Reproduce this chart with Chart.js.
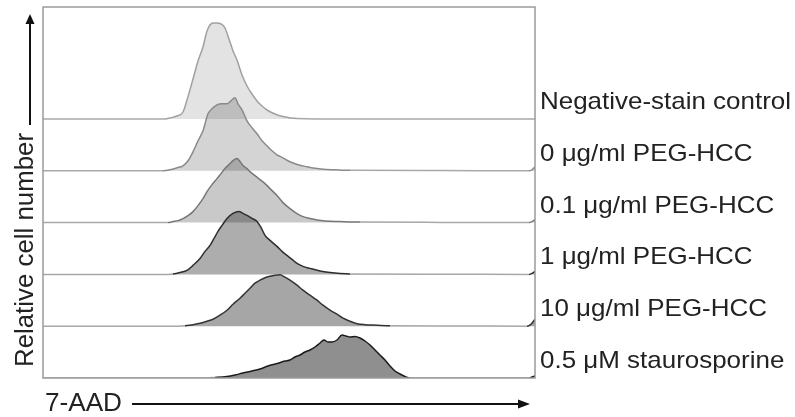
<!DOCTYPE html>
<html><head><meta charset="utf-8">
<script src="https://cdn.jsdelivr.net/npm/chart.js@4"></script>
<style>html,body{margin:0;padding:0;background:#fff;overflow:hidden}</style>
</head><body>
<canvas id="c" width="795" height="417"></canvas>
<script>
// ---- data (top row first) ----
const categories = ['Negative-stain control','0 \u03bcg/ml PEG-HCC','0.1 \u03bcg/ml PEG-HCC','1 \u03bcg/ml PEG-HCC','10 \u03bcg/ml PEG-HCC','0.5 \u03bcM staurosporine'];
const xAxisTitle = '7-AAD';
const yAxisTitle = 'Relative cell number';

const negChannel = [0,122,127,134,140,144,150,155,160,164,167,170,174,178,182,186,190,194,199,204,209,214,219,224,232,240,254,300,492];
const negCount   = [0,0,1,3,7,19,40,58,72,88,94,96,96,95,91,80,68,59,44,33,25,18,13,9,5,2.5,0.5,0,0];

const c0Channel = [0,120,127,134,140,145,150,155,160,165,169,174,179,184,188,192,195,199,204,209,214,219,224,229,234,240,247,255,264,272,280,292,307,400,486,489,492];
const c0Count   = [0,0,1,3,5,10,19,30,40,57,62,66,67,67,70,73,67,61,50,43,37,30,25,20,16,13,9,6,4,2.5,1.5,1,0.5,0.2,0,1,4];

const c01Channel = [0,125,130,135,140,145,150,155,160,164,169,174,178,182,186,190,194,197,200,204,207,212,217,222,227,234,240,247,254,260,267,274,282,297,317,400,486,489,492];
const c01Count   = [0,0,1,2,4,7,11,17,24,31,38,44,49,54,58,62,64,61,57,54,51,47,43,39,34,27,20,14,9,6,4,2.5,1.5,1,0.5,0.2,0,1,3];

const c1Channel = [0,125,130,137,144,150,157,162,167,171,175,179,184,190,196,200,204,209,214,218,222,227,234,239,244,249,254,260,267,277,287,297,307,400,486,489,492];
const c1Count   = [0,0,0.5,2,4,9,16,23,29,36,43,49,56,61,63,61,59,56,53,47,39,34,28,23,19,15,11,8,6,3.5,2,1,0.5,0.2,0,1,3];

const c10Channel = [0,135,142,150,157,164,170,177,184,190,197,202,207,212,217,222,227,232,237,242,247,254,260,267,274,280,287,294,300,307,314,322,334,347,420,484,488,492];
const c10Count   = [0,0,0.5,1.5,3,5,7,11,16,22,28,33,38,43,46,48.5,50,51,51.5,49,46,41,36,31,26,21,16,12,8,5,2.5,1.5,1,0.5,0.2,0,2,7];

const stauChannel = [0,162,172,184,192,200,209,217,225,234,242,247,252,257,262,267,272,277,281,285,289,294,299,303,307,312,317,322,327,332,337,342,347,352,357,362,367,486,489,492];
const stauCount   = [0,0,0.5,1.5,3,5,7,9,12,14.5,17,18,21,23,26,28,31,35,38,36,36,38,43,42,41,41.5,40,37,33,28,23,18,12,7,4,1.5,0,0,1,2];

const channels = [negChannel, c0Channel, c01Channel, c1Channel, c10Channel, stauChannel];
const counts   = [negCount, c0Count, c01Count, c1Count, c10Count, stauCount];

// ---- styles ----
const fillColors   = ['rgba(0,0,0,0.11)','rgba(0,0,0,0.17)','rgba(0,0,0,0.21)','rgba(0,0,0,0.32)','rgba(0,0,0,0.35)','rgba(0,0,0,0.44)'];
const borderColors = ['#a0a0a0','#8a8a8a','#777777','#2e2e2e','#333333','#1a1a1a'];
const baselineColor = '#a8a8a8';
const rowStep = 51.8;
const n = categories.length;
const offsets = categories.map((_, i) => (n - 1 - i) * rowStep);

const datasets = categories.map((name, i) => {
  const off = offsets[i];
  return {
    label: name,
    data: channels[i].map((x, k) => ({x: x, y: off + counts[i][k]})),
    borderColor: borderColors[i],
    backgroundColor: fillColors[i],
    borderWidth: 1.5,
    pointRadius: 0,
    cubicInterpolationMode: 'monotone',
    fill: {value: off},
    order: n - 1 - i,
    segment: {
      borderColor: ctx => (ctx.p0.parsed.y - off < 0.8 && ctx.p1.parsed.y - off < 0.8) ? baselineColor : undefined
    }
  };
});

function fitText(ctx, text, x, y, targetW) {
  const w = ctx.measureText(text).width;
  ctx.save(); ctx.translate(x, y); ctx.scale(targetW / w, 1); ctx.fillText(text, 0, 0); ctx.restore();
}

const decor = {
  id: 'decor',
  afterDraw(chart) {
    const {ctx, chartArea: a, scales: {y}} = chart;
    ctx.save();
    // frame
    ctx.strokeStyle = '#9a9a9a'; ctx.lineWidth = 1.5;
    ctx.strokeRect(a.left, a.top, a.right - a.left, a.bottom - a.top);
    // row labels
    ctx.fillStyle = '#222'; ctx.textAlign = 'left'; ctx.textBaseline = 'alphabetic';
    ctx.font = '24px "Liberation Sans", Arial, sans-serif';
    const sx = 251 / ctx.measureText(categories[0]).width;
    categories.forEach((c, i) => {
      const yb = y.getPixelForValue(offsets[i]) - 10;
      ctx.save(); ctx.translate(a.right + 5, yb); ctx.scale(sx, 1); ctx.fillText(c, 0, 0); ctx.restore();
    });
    // axis titles
    ctx.font = '26px "Liberation Sans", Arial, sans-serif';
    ctx.save(); ctx.translate(33, 250); ctx.rotate(-Math.PI / 2);
    const wy = ctx.measureText(yAxisTitle).width;
    ctx.scale(234 / wy, 1); ctx.textAlign = 'center'; ctx.fillText(yAxisTitle, 0, 0);
    ctx.restore();
    fitText(ctx, xAxisTitle, 45, 411, 77);
    // arrows
    ctx.strokeStyle = '#111'; ctx.fillStyle = '#111'; ctx.lineWidth = 2;
    ctx.beginPath(); ctx.moveTo(30, 125); ctx.lineTo(30, 22); ctx.stroke();
    ctx.beginPath(); ctx.moveTo(30, 14); ctx.lineTo(34.5, 24); ctx.lineTo(25.5, 24); ctx.closePath(); ctx.fill();
    ctx.beginPath(); ctx.moveTo(132, 404); ctx.lineTo(521, 404); ctx.stroke();
    ctx.beginPath(); ctx.moveTo(530, 404); ctx.lineTo(518, 399.5); ctx.lineTo(518, 408.5); ctx.closePath(); ctx.fill();
    ctx.restore();
  }
};

new Chart(document.getElementById('c'), {
  type: 'line',
  data: {datasets},
  options: {
    responsive: false,
    devicePixelRatio: 1,
    animation: false,
    layout: {padding: {left: 43, right: 260, top: 7, bottom: 39}},
    scales: {
      x: {type: 'linear', min: 0, max: 492, display: false},
      y: {type: 'linear', min: 0, max: 371, display: false}
    },
    plugins: {legend: {display: false}, tooltip: {enabled: false}}
  },
  plugins: [decor]
});
</script>
</body></html>
